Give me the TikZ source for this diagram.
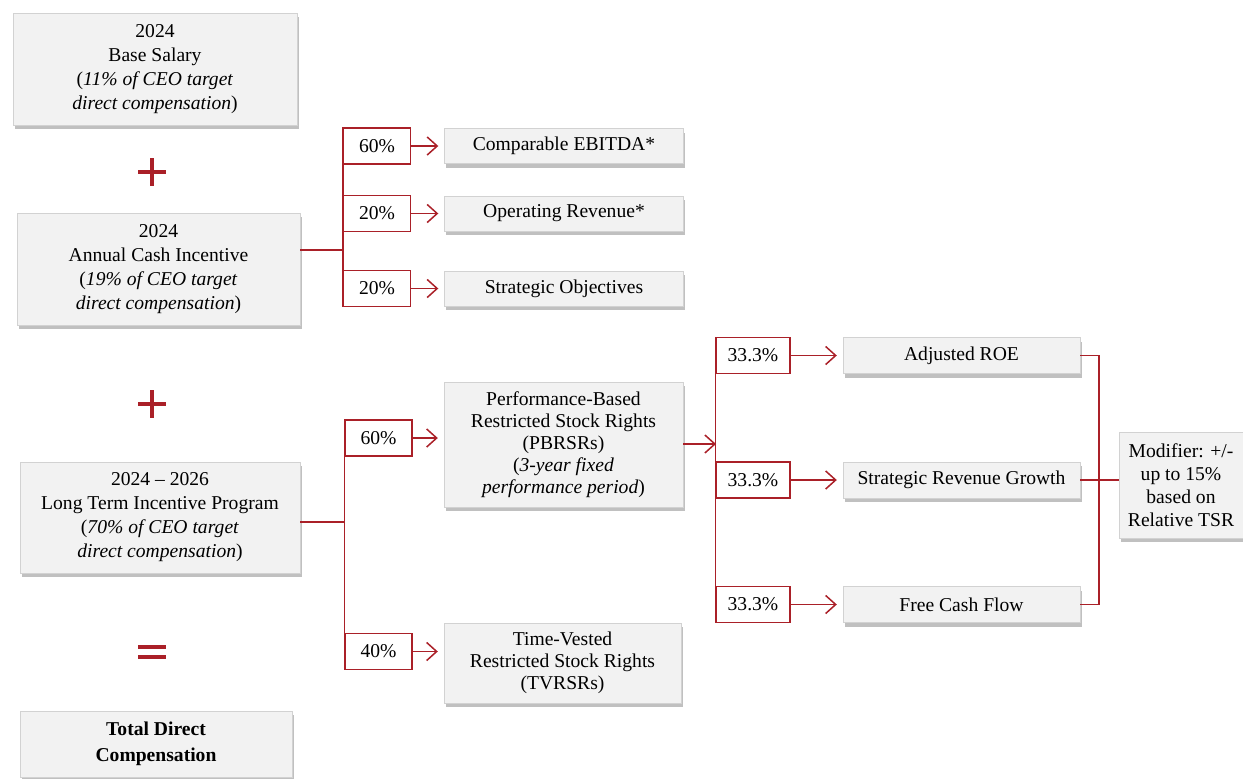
\documentclass[tikz,border=0pt]{standalone}
\usepackage{fontspec}
\setmainfont{Liberation Serif}
\usetikzlibrary{arrows.meta,shadows}
\definecolor{boxred}{RGB}{170,32,40}
\definecolor{boxgray}{RGB}{242,242,242}
\definecolor{boxedge}{RGB}{210,210,210}
\tikzset{
  gbox/.style={draw=boxedge, fill=boxgray, align=center, inner sep=0pt,
    drop shadow={shadow xshift=1.5pt, shadow yshift=-4pt, opacity=0.55, fill=black!45}},
  pbox/.style={draw=boxred, line width=1.5pt, fill=white, minimum height=36pt, inner sep=0pt},
  rline/.style={draw=boxred, line width=1.5pt},
  rarrow/.style={rline, -{Straight Barb[length=10pt,width=18pt,line width=1.5pt]}, shorten >=6pt},
  sign/.style={draw=boxred, line width=3.2pt}
}
\begin{document}
\begin{tikzpicture}[x=1pt,y=-1pt,font=\fontsize{19.6}{24}\selectfont]
\useasboundingbox (0,0) rectangle (1243,779);
\node[gbox, minimum width=284pt, minimum height=112pt] (base) at (155,69)
  {2024\\Base Salary\\(\textit{11\% of CEO target}\\\textit{direct compensation})};
\node[gbox, minimum width=283pt, minimum height=112pt] (aci) at (158.5,269)
  {2024\\Annual Cash Incentive\\(\textit{19\% of CEO target}\\\textit{direct compensation})};
\node[gbox, minimum width=280pt, minimum height=111pt] (ltip) at (160,517.5)
  {2024 -- 2026\\Long Term Incentive Program\\(\textit{70\% of CEO target}\\\textit{direct compensation})};
\node[gbox, minimum width=272pt, minimum height=66pt, font=\fontsize{19.6}{26}\selectfont\bfseries] (tdc) at (156,744)
  {Total Direct\\Compensation};
\draw[sign] (138,172) -- (166,172) (152,158) -- (152,186);
\draw[sign] (138,404) -- (166,404) (152,390) -- (152,418);
\draw[sign] (138,647) -- (166,647) (138,657) -- (166,657);
\foreach \n/\y/\v/\lab in {1/146/60/Comparable EBITDA*, 2/213.5/20/Operating Revenue*, 3/288.5/20/Strategic Objectives}{
  \node[pbox, minimum width=67pt] (a\n) at (377,\y) {\v\%};
  \node[gbox, minimum width=239pt, minimum height=35pt] (am\n) at (564,\y) {\lab};
  \draw[rarrow] (a\n) -- (am\n);
}
\coordinate (j1) at (343,250);
\draw[rline] (a1.north west) -- (a3.south west);
\draw[rline] (aci.east |- j1) -- (j1);
\node[pbox, minimum width=67pt] (l1) at (378.5,438) {60\%};
\node[pbox, minimum width=67pt] (l2) at (378.5,651.5) {40\%};
\node[gbox, minimum width=239pt, minimum height=125pt, font=\fontsize{19.6}{22}\selectfont] (pb) at (563.5,444.5)
  {Performance-Based\\Restricted Stock Rights\\(PBRSRs)\\(\textit{3-year fixed}\\\textit{performance period})};
\node[gbox, minimum width=237pt, minimum height=80pt, font=\fontsize{19.6}{22}\selectfont] (tv) at (562.5,663)
  {Time-Vested\\Restricted Stock Rights\\(TVRSRs)};
\coordinate (j2) at (345,522);
\draw[rline] (l1.north west) -- (l2.south west);
\draw[rline] (ltip.east |- j2) -- (j2);
\draw[rarrow] (l1) -- (pb.west |- l1);
\draw[rarrow] (l2) -- (tv.west |- l2);
\foreach \n/\y/\lab in {1/355.5/Adjusted ROE, 2/480/Strategic Revenue Growth, 3/604.5/Free Cash Flow}{
  \node[pbox, minimum width=74pt] (r\n) at (753,\y) {33.3\%};
  \node[gbox, minimum width=237pt, minimum height=36pt] (m\n) at (961.5,\y) {\lab};
  \draw[rarrow] (r\n) -- (m\n);
}
\coordinate (j3) at (716,444);
\draw[rline] (r1.north west) -- (r3.south west);
\draw[rarrow, shorten >=0pt] (pb.east |- j3) -- (j3);
\node[gbox, minimum width=124pt, minimum height=106pt, font=\fontsize{19.6}{23}\selectfont] (mod) at (1181,485)
  {Modifier: +/-\\up to 15\%\\based on\\Relative TSR};
\coordinate (j4) at (1099,480);
\draw[rline] (m1.east) -| (j4) |- (m3.east);
\draw[rline] (m2.east) -- (mod.west |- m2.east);
\end{tikzpicture}
\end{document}
